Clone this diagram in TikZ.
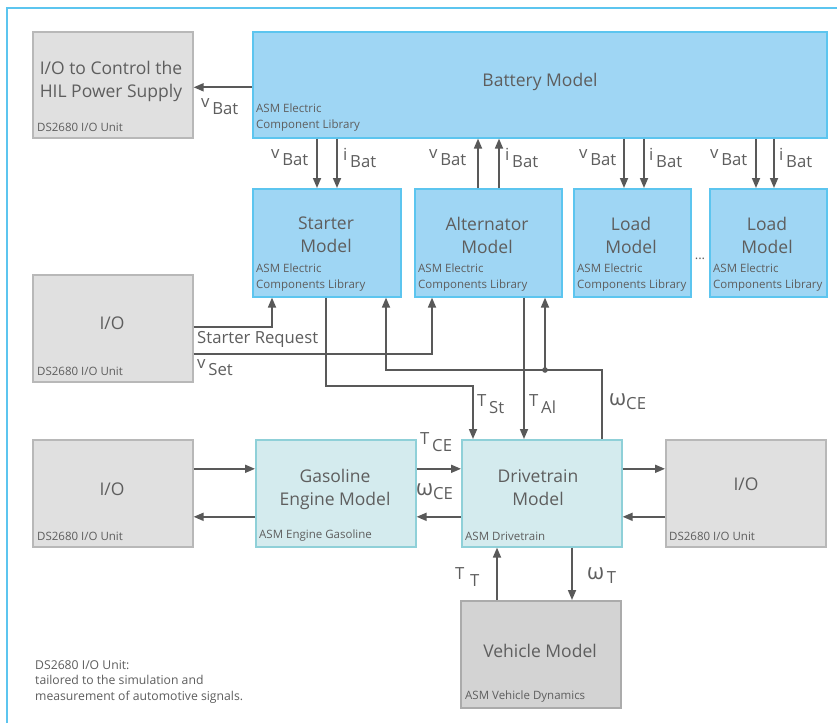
\documentclass[tikz,border=0pt]{standalone}
\usepackage{fontspec}
\setmainfont{Open Sans}
\usetikzlibrary{arrows.meta}
\definecolor{txt}{HTML}{5E5E5E}
\definecolor{ln}{HTML}{595959}
\definecolor{bluefill}{HTML}{9FD6F4}
\definecolor{blueline}{HTML}{5CC5EF}
\definecolor{tealfill}{HTML}{D4EBEE}
\definecolor{tealline}{HTML}{8FD0D8}
\definecolor{grayfill}{HTML}{E0E0E0}
\definecolor{grayline}{HTML}{B8B8B8}
\definecolor{vehfill}{HTML}{D3D3D3}
\definecolor{vehline}{HTML}{ABABAB}
\newcommand{\sig}[2]{\raisebox{7pt}{#1}\,#2}
\newcommand{\omg}[1]{\raisebox{4pt}{\fontsize{22}{22}\selectfont ω}#1}
\tikzset{
  box/.style={draw, line width=1.6pt, inner sep=0pt, anchor=north west},
  bluebox/.style={box, fill=bluefill, draw=blueline},
  tealbox/.style={box, fill=tealfill, draw=tealline},
  graybox/.style={box, fill=grayfill, draw=grayline},
  vehbox/.style={box, fill=vehfill, draw=vehline},
  main/.style={text=txt, font=\fontsize{17.5}{23}\selectfont, align=center, inner sep=0pt},
  sub/.style={text=txt, font=\fontsize{11.5}{16}\selectfont, align=left, anchor=west, inner sep=0pt},
  lab/.style={text=txt, font=\fontsize{16.7}{18}\selectfont, anchor=west, inner sep=0pt},
  arr/.style={draw=ln, line width=1.7pt, -{Triangle[length=10pt,width=8pt]}},
  wire/.style={draw=ln, line width=1.7pt},
}
\begin{document}
\begin{tikzpicture}[x=1pt,y=-1pt]
\useasboundingbox (0,0) rectangle (837,723);
\fill[white] (0,0) rectangle (837,723);
% frame
\draw[blueline, line width=1.5pt] (7,723) -- (7,8) -- (837,8);

% boxes
\node[graybox, minimum width=160pt, minimum height=106pt] (ioc) at (32,31) {};
\node[bluebox, minimum width=574pt, minimum height=106pt] (bat) at (252,31) {};
\node[bluebox, minimum width=148pt, minimum height=108pt] (st) at (252,188) {};
\node[bluebox, minimum width=147pt, minimum height=108pt] (alt) at (414,188) {};
\node[bluebox, minimum width=117pt, minimum height=108pt] (ld1) at (573,188) {};
\node[bluebox, minimum width=117pt, minimum height=108pt] (ld2) at (709,188) {};
\node[graybox, minimum width=160pt, minimum height=107pt] (io2) at (32,274) {};
\node[graybox, minimum width=160pt, minimum height=107pt] (io3) at (32,439) {};
\node[tealbox, minimum width=160pt, minimum height=107pt] (gas) at (255,439) {};
\node[tealbox, minimum width=160pt, minimum height=107pt] (dt) at (461,439) {};
\node[graybox, minimum width=160pt, minimum height=107pt] (io4) at (665,439) {};
\node[vehbox, minimum width=160pt, minimum height=107pt] (veh) at (460,600) {};

% main texts
\node[main] (tioc) at (111,81) {I/O to Control the\\HIL Power Supply};
\node[main] (tbat) at (540,82) {Battery Model};
\node[main] (tst) at (326,235) {Starter\\Model};
\node[main] (talt) at (487,235) {Alternator\\Model};
\node[main] (tld1) at (631,235) {Load\\Model};
\node[main] (tld2) at (767,235) {Load\\Model};
\node[main] (tio2) at (112,323) {I/O};
\node[main] (tio3) at (112,489) {I/O};
\node[main] (tgas) at (335,489) {Gasoline\\Engine Model};
\node[main] (tdt) at (538,488) {Drivetrain\\Model};
\node[main] (tio4) at (746,484) {I/O};
\node[main] (tveh) at (540,651) {Vehicle Model};
\node[text=txt, inner sep=0pt] (dots) at (700,259) {\fontsize{13}{13}\selectfont ...};

% sub texts
\node[sub] (sioc) at (37,127) {DS2680 I/O Unit};
\node[sub] (sbat) at (256,118) {ASM Electric\\Component Library};
\node[sub] (sst) at (256,278) {ASM Electric\\Components Library};
\node[sub] (salt) at (418,278) {ASM Electric\\Components Library};
\node[sub] (sld1) at (577,278) {ASM Electric\\Components Library};
\node[sub] (sld2) at (713,278) {ASM Electric\\Components Library};
\node[sub] (sio2) at (37,371) {DS2680 I/O Unit};
\node[sub] (sio3) at (37,536) {DS2680 I/O Unit};
\node[sub] (sgas) at (259,536) {ASM Engine Gasoline};
\node[sub] (sdt) at (465,536) {ASM Drivetrain};
\node[sub] (sio4) at (669,536) {DS2680 I/O Unit};
\node[sub] (sveh) at (465,697) {ASM Vehicle Dynamics};
\node[sub, anchor=north west, font=\fontsize{12.2}{15.7}\selectfont] (note) at (35,660) {DS2680 I/O Unit:\\tailored to the simulation and\\measurement of automotive signals.};

% connectors: battery
\draw[arr] ([yshift=-2.5pt]bat.west) -- ([yshift=-2.5pt]ioc.east);
\draw[arr] ([xshift=65pt]bat.south west) -- ([xshift=65pt]st.north west);
\draw[arr] ([xshift=85pt]bat.south west) -- ([xshift=85pt]st.north west);
\draw[arr] ([xshift=64pt]alt.north west) -- ([xshift=226pt]bat.south west);
\draw[arr] ([xshift=85pt]alt.north west) -- ([xshift=247pt]bat.south west);
\draw[arr] ([xshift=372pt]bat.south west) -- ([xshift=51pt]ld1.north west);
\draw[arr] ([xshift=392pt]bat.south west) -- ([xshift=71pt]ld1.north west);
\draw[arr] ([xshift=504pt]bat.south west) -- ([xshift=47pt]ld2.north west);
\draw[arr] ([xshift=522pt]bat.south west) -- ([xshift=65pt]ld2.north west);

% I/O to starter / alternator
\draw[arr] ([yshift=1.5pt]io2.east) -| ([xshift=20pt]st.south west);
\draw[arr] ([yshift=-25.5pt]io2.east) -| ([xshift=18pt]alt.south west);

% torques
\coordinate (c1) at (326,386);
\coordinate (c2) at (473,386);
\draw[arr] ([xshift=74pt]st.south west) -- (c1) -- (c2) -- ([xshift=12pt]dt.north west);
\draw[arr] ([xshift=110pt]alt.south west) -- ([xshift=63pt]dt.north west);

% omega CE feedback
\coordinate (w1) at (602,370);
\coordinate (w2) at (386,370);
\coordinate (wd) at (545,370);
\draw[arr] ([xshift=141pt]dt.north west) -- (w1) -- (w2) -- ([xshift=134pt]st.south west);
\draw[arr] (wd) -- ([xshift=131pt]alt.south west);
\fill[ln] (wd) circle (2.8pt);

% engine row
\draw[arr] ([yshift=24.5pt]io3.east) -- ([yshift=24.5pt]gas.west);
\draw[arr] ([yshift=-23.5pt]gas.west) -- ([yshift=-23.5pt]io3.east);
\draw[arr] ([yshift=24.5pt]gas.east) -- ([yshift=24.5pt]dt.west);
\draw[arr] ([yshift=-23.5pt]dt.west) -- ([yshift=-23.5pt]gas.east);
\draw[arr] ([yshift=24.5pt]dt.east) -- ([yshift=24.5pt]io4.west);
\draw[arr] ([yshift=-23.5pt]io4.west) -- ([yshift=-23.5pt]dt.east);

% vehicle
\draw[arr] ([xshift=37pt]veh.north west) -- ([xshift=36pt]dt.south west);
\draw[arr] ([xshift=111pt]dt.south west) -- ([xshift=112pt]veh.north west);

% signal labels
\node[lab] (l1) at (201,107) {\sig{v}{Bat}};
\node[lab] (l2) at (271,158) {\sig{v}{Bat}};
\node[lab] (l3) at (343,158) {\sig{i}{Bat}};
\node[lab] (l4) at (429,158) {\sig{v}{Bat}};
\node[lab] (l5) at (505,158) {\sig{i}{Bat}};
\node[lab] (l6) at (579,158) {\sig{v}{Bat}};
\node[lab] (l7) at (649,158) {\sig{i}{Bat}};
\node[lab] (l8) at (710,158) {\sig{v}{Bat}};
\node[lab] (l9) at (779,158) {\sig{i}{Bat}};
\node[lab] (l10) at (197,339) {Starter Request};
\node[lab] (l11) at (197,368) {\sig{v}{Set}};
\node[lab] (l12) at (477,404) {\sig{T}{St}};
\node[lab] (l13) at (529,404) {\sig{T}{Al}};
\node[lab] (l14) at (609,402) {\omg{CE}};
\node[lab] (l15) at (420,442) {\sig{T}{CE}};
\node[lab] (l16) at (416,492) {\omg{CE}};
\node[lab] (l17) at (455,577) {\sig{T}{\,T}};
\node[lab] (l18) at (587,576) {\omg{\,T}};
\end{tikzpicture}
\end{document}
